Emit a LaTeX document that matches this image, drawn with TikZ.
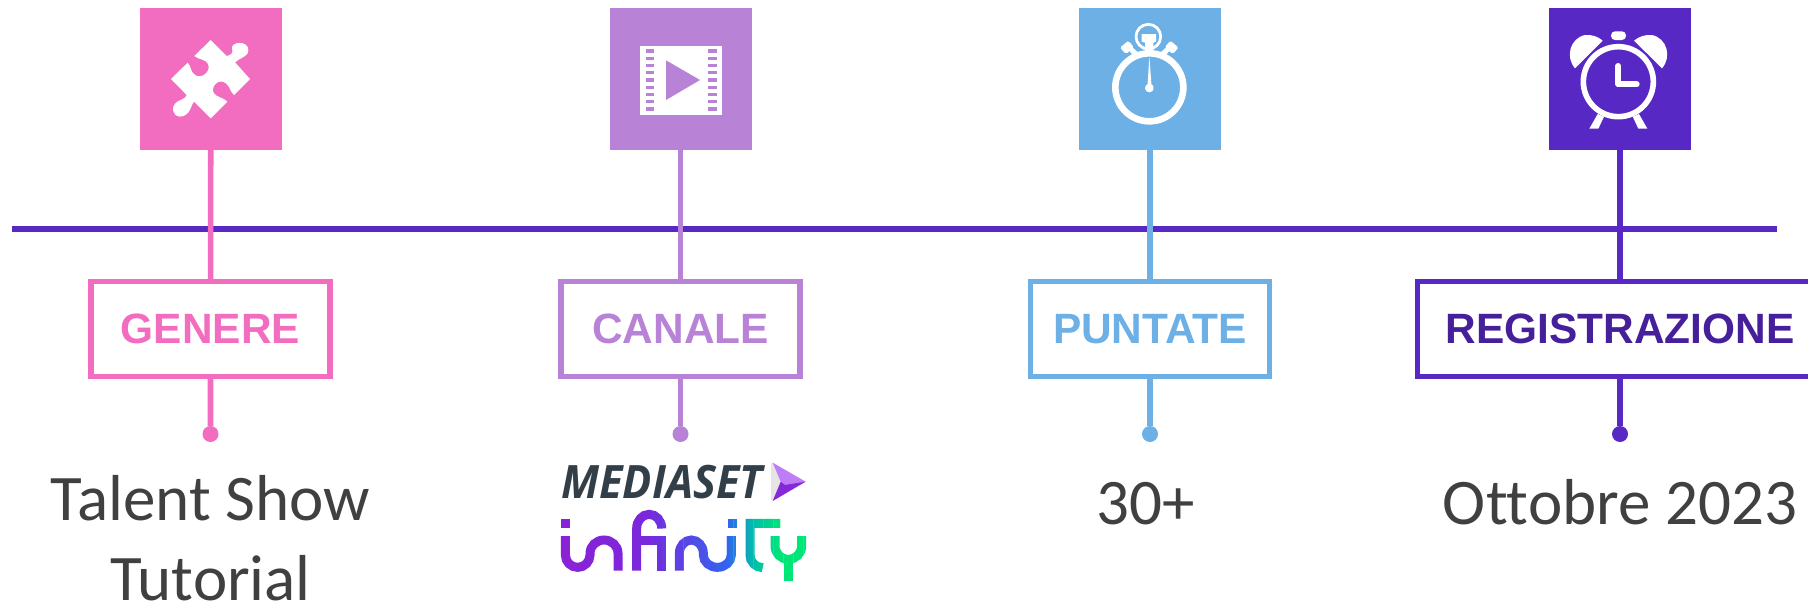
\documentclass[tikz,border=0pt]{standalone}
\usepackage{fontspec}
\setmainfont[Ligatures=NoCommon]{Carlito}
\newfontfamily\labelfont{Liberation Sans}
\newfontfamily\logofont{Open Sans}
\definecolor{pinkc}{HTML}{F26CBF}
\definecolor{lilac}{HTML}{B882D6}
\definecolor{skyc}{HTML}{6CB0E6}
\definecolor{violet}{HTML}{5828C4}
\definecolor{regtext}{HTML}{461F9A}
\definecolor{bodytext}{HTML}{404040}
\definecolor{logodark}{HTML}{333F48}
\definecolor{arrowlight}{HTML}{BE7CF6}
\definecolor{arrowdark}{HTML}{8428D8}
\definecolor{infa}{HTML}{8A22D6}
\definecolor{infb}{HTML}{7B28DC}
\definecolor{infc}{HTML}{2F68F0}
\definecolor{infd}{HTML}{00C0A8}
\definecolor{infe}{HTML}{00E676}
\tikzset{
	iconsq/.style={fill=#1,minimum size=71pt,inner sep=0pt,outer sep=0pt},
	labelbox/.style={draw=#1,text=#1,line width=2.8pt,minimum width=119.5pt,minimum height=47.5pt,inner sep=0pt,outer sep=0pt,font=\labelfont\bfseries\fontsize{21.2}{24}\selectfont},
	enddot/.style={circle,fill=#1,minimum size=8pt,inner sep=0pt,outer sep=0pt},
	stem/.style={line width=2.8pt,#1},
	bodytxt/.style={text=bodytext,anchor=base,align=center,inner sep=0pt,text depth=0pt,font=\fontsize{32.5}{40}\selectfont},
	zoomed/.style={x=.16667pt,y=-.16667pt},
	inflogo/.style={line width=4.5pt}
}
% the strokes of the infinity word
\newcommand{\infstrokes}{
	\fill (63,237) rectangle (90,263);
	\fill (563,237) rectangle (590,263);
	\draw (76,288) -- (76,345) arc[start angle=180,end angle=0,radius=37] -- (150,340) arc[start angle=180,end angle=360,x radius=42,y radius=40] -- (234,392);
	\draw (290,392) -- (290,265) arc[start angle=180,end angle=360,x radius=37.5,y radius=42] -- (365,262);
	\draw (290,300) -- (352,300);
	\draw (365,287) -- (365,392);
	\draw (418,392) -- (418,340) arc[start angle=180,end angle=360,x radius=36,y radius=40] -- (490,345) arc[start angle=180,end angle=0,x radius=42,y radius=37] -- (574,288);
	\draw (720,250) -- (630,250) -- (630,345) arc[start angle=180,end angle=90,radius=38] -- (668,383);
	\draw (705,288) -- (705,318) arc[start angle=180,end angle=0,radius=40] -- (785,288);
	\draw (745,358) -- (745,423);
}
\begin{document}
\begin{tikzpicture}[x=.5pt,y=-.5pt]
	\useasboundingbox (0,0) rectangle (1808,605);
	% time line
	\coordinate (lineleft) at (12,229);
	\coordinate (lineright) at (1777,229);
	\draw[violet,line width=3pt] (lineleft) -- (lineright);
	% squares on top
	\node[iconsq=pinkc] (sqgenere) at (210.8,79) {};
	\node[iconsq=lilac] (sqcanale) at (680.5,79) {};
	\node[iconsq=skyc] (sqpuntate) at (1150,79) {};
	\node[iconsq=violet] (sqreg) at (1620,79) {};
	% boxes
	\node[labelbox=pinkc] (boxgenere) at (210.5,329) {GENERE};
	\node[labelbox=lilac] (boxcanale) at (680.5,329) {CANALE};
	\node[labelbox=skyc] (boxpuntate) at (1150,329) {PUNTATE};
	\node[labelbox=violet,text=regtext,minimum width=202.5pt] (boxreg) at (1620,329) {REGISTRAZIONE};
	% dots
	\node[enddot=pinkc] (dotgenere) at (210.5,434) {};
	\node[enddot=lilac] (dotcanale) at (680.5,434) {};
	\node[enddot=skyc] (dotpuntate) at (1150,434) {};
	\node[enddot=violet] (dotreg) at (1620,434) {};
	% stems
	\draw[stem=pinkc] (sqgenere) -- (boxgenere) (boxgenere) -- (dotgenere);
	\draw[stem=lilac] (sqcanale) -- (boxcanale) (boxcanale) -- (dotcanale);
	\draw[stem=skyc] (sqpuntate) -- (boxpuntate) (boxpuntate) -- (dotpuntate);
	\draw[stem=violet] (sqreg) -- (boxreg) (boxreg) -- (dotreg);
	% texts
	\node[bodytxt] (txtgenere) at (210.5,600) {Talent Show\\Tutorial};
	\node[bodytxt] (txtpuntate) at (1146,524) {30+};
	\node[bodytxt] (txtreg) at (1620,524) {Ottobre 2023};
	% puzzle
	\begin{scope}[shift={(120,0)},zoomed]
		\fill[white] (272,120) -- (320,168) .. controls (335,165) and (340,158) .. (336,145) .. controls (332,125) and (385,120) .. (385,150) .. controls (385,172) and (360,172) .. (345,187) -- (390,237) -- (342,285) .. controls (330,275) and (330,260) .. (318,250) .. controls (295,232) and (270,262) .. (282,280) .. controls (290,292) and (310,292) .. (322,305) -- (272,355) -- (222,305) .. controls (212,315) and (212,348) .. (180,350) .. controls (155,348) and (152,318) .. (172,305) .. controls (182,298) and (195,298) .. (200,285) -- (153,237) -- (203,188) .. controls (215,200) and (210,215) .. (225,225) .. controls (245,238) and (272,215) .. (265,195) .. controls (258,175) and (235,180) .. (223,168) -- cycle;
	\end{scope}
	% film
	\begin{scope}[shift={(590,0)},zoomed]
		\fill[white] (150,138) rectangle (397,344);
		\foreach \i in {0,...,8} {
			\fill[lilac] (167,148+21.7*\i) rectangle (192,158+21.7*\i);
			\fill[lilac] (354,148+21.7*\i) rectangle (380,158+21.7*\i);
		}
		\fill[lilac] (228,181) -- (330,240) -- (228,300) -- cycle;
	\end{scope}
	% stopwatch
	\begin{scope}[shift={(1060,0)},zoomed]
		\draw[white,line width=3.3pt] (268,262) circle[radius=102];
		\draw[white,line width=1.4pt] (265,110) circle[radius=37];
		\fill[white] (245,102) -- (288,102) -- (288,125) -- (280,128) -- (280,165) -- (255,165) -- (255,128) -- (245,125) -- cycle;
		\fill[white,rounded corners=.8pt] (180,143) -- (205,122) -- (222,142) -- (198,162) -- cycle;
		\fill[white] (205,150) -- (215,140) -- (235,158) -- (222,168) -- cycle;
		\fill[white,rounded corners=.8pt] (356,143) -- (331,122) -- (314,142) -- (338,162) -- cycle;
		\fill[white] (331,150) -- (321,140) -- (301,158) -- (314,168) -- cycle;
		\fill[white] (268,170) -- (262,262) -- (275,262) -- cycle;
		\fill[white] (268,264) circle[radius=13];
	\end{scope}
	% alarm clock
	\begin{scope}[shift={(1530,0)},zoomed]
		\draw[white,line width=2.8pt] (265,245) circle[radius=105];
		\fill[white] (135,205) .. controls (105,170) and (120,115) .. (165,105) .. controls (185,103) and (205,110) .. (218,122) -- cycle;
		\fill[white] (396,205) .. controls (426,170) and (411,115) .. (366,105) .. controls (346,103) and (326,110) .. (312,122) -- cycle;
		\fill[white,rounded corners=2pt] (243,120) -- (243,94) -- (288,94) -- (288,120) -- cycle;
		\draw[white,line width=3pt,line cap=round,line join=round] (265,198) -- (265,253) -- (320,253);
		\fill[white] (203,342) -- (178,386) -- (205,386) -- (222,350) -- cycle;
		\fill[white] (327,342) -- (352,386) -- (325,386) -- (308,350) -- cycle;
	\end{scope}
	% logo
	\begin{scope}[shift={(540,440)},zoomed]
		\node[text=logodark,inner sep=0pt,anchor=base,xscale=.94,font=\logofont\bfseries\itshape\fontsize{23}{26}\selectfont] (txtlogo) at (366,175) {MEDIASET};
		\fill[gray!20] (693,70) -- (698,68) -- (722,125) -- (698,183) -- (693,180) -- cycle;
		\fill[arrowlight] (698,68) -- (797,125) -- (735,140) -- (722,125) -- cycle;
		\fill[arrowdark] (698,183) -- (797,125) -- (735,135) -- (722,125) -- cycle;
		% word cut in thin bands to get the colour run
		\foreach \xs/\xe/\ca/\cb in {60/300/infa/infb,300/560/infb/infc,560/640/infc/infd,640/720/infd/infe,720/800/infe/infe} {
			\foreach \k in {0,...,7} {
				\begin{scope}
					\pgfmathsetmacro{\xa}{\xs+(\xe-\xs)*\k/8}
					\pgfmathsetmacro{\xb}{\xs+(\xe-\xs)*(\k+1)/8+1}
					\pgfmathsetmacro{\pct}{\k*12.5}
					\clip (\xa,200) rectangle (\xb,430);
					\colorlet{bandc}{\cb!\pct!\ca}
					\begin{scope}[inflogo,draw=bandc,fill=bandc]
						\infstrokes
					\end{scope}
				\end{scope}
			}
		}
	\end{scope}
\end{tikzpicture}
\end{document}
